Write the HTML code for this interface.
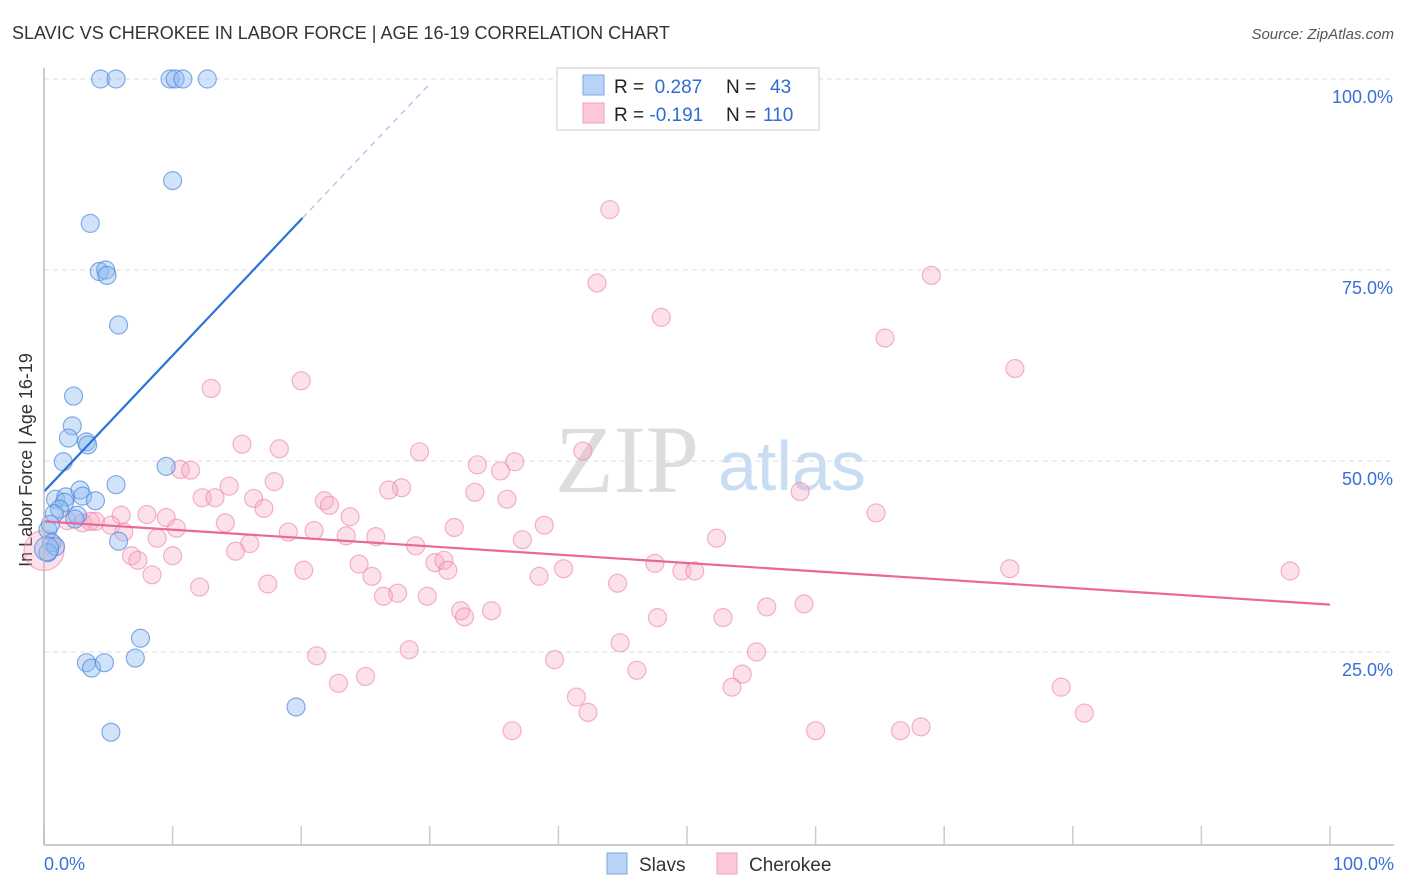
<!DOCTYPE html>
<html><head><meta charset="utf-8"><style>
body{margin:0;background:#fff;font-family:"Liberation Sans",sans-serif}
#wrap{position:relative;width:1406px;height:892px;overflow:hidden}
svg{position:absolute;left:0;top:0}
</style></head><body>
<div id="wrap">
<svg id="c" width="1406" height="892">
<text x="12" y="39" font-size="18" fill="#333">SLAVIC VS CHEROKEE IN LABOR FORCE | AGE 16-19 CORRELATION CHART</text>
<text x="1394" y="39" font-size="15" fill="#555" font-style="italic" text-anchor="end">Source: ZipAtlas.com</text>
<text x="32" y="460" font-size="18" fill="#333" text-anchor="middle" transform="rotate(-90 32 460)">In Labor Force | Age 16-19</text>
<text x="555" y="492" font-size="96" fill="#ddd" font-family="Liberation Serif,serif">ZIP</text>
<text x="718" y="490" font-size="70" fill="#c8dcf2">atlas</text>
<g id="grid"></g><g id="pts"></g><g id="lines"></g>
<line x1="44" y1="845" x2="1394" y2="845" stroke="#bbb" stroke-width="1.5"/>
<line x1="44" y1="68" x2="44" y2="845" stroke="#bbb" stroke-width="1.5"/>
<text x="44" y="870" font-size="18" fill="#3a6fd8">0.0%</text>
<text x="1394" y="870" font-size="18" fill="#3a6fd8" text-anchor="end">100.0%</text>
<g>
<rect x="557" y="68" width="262" height="62" fill="#fff" stroke="#ccc"/>
<rect x="583" y="75" width="21" height="20" fill="#b8d3f5" stroke="#7aa8e8"/>
<rect x="583" y="103" width="21" height="20" fill="#fcc8d8" stroke="#f0a0b8"/>
<text x="614" y="93" font-size="19" fill="#222">R = <tspan fill="#2f6bd6">&#160;0.287</tspan><tspan x="726">N = </tspan><tspan fill="#2f6bd6" x="770">43</tspan></text>
<text x="614" y="121" font-size="19" fill="#222">R = <tspan fill="#2f6bd6">-0.191</tspan><tspan x="726">N = </tspan><tspan fill="#2f6bd6" x="763">110</tspan></text>
</g>
<g>
<rect x="607" y="853" width="20" height="21" fill="#b8d3f5" stroke="#7aa8e8"/>
<text x="639" y="871" font-size="19" fill="#333">Slavs</text>
<rect x="717" y="853" width="20" height="21" fill="#fcc8d8" stroke="#f0a0b8"/>
<text x="749" y="871" font-size="19" fill="#333">Cherokee</text>
</g>
</svg></div>
<script>
const yTicks=[25,50,75,100];
const yTickLabels=["25.0%","50.0%","75.0%","100.0%"];
const xTicks=[0,10,20,30,40,50,60,70,80,90,100];
const slavsX=[4.4,5.6,9.8,10.2,10.8,12.7,10.0,3.6,4.3,4.8,4.9,5.8,2.3,2.2,1.9,3.3,3.4,1.5,9.5,5.6,0.9,1.7,1.6,2.8,3.0,4.0,1.2,0.8,2.6,2.4,0.3,0.6,5.8,0.9,7.5,7.1,3.3,3.7,4.7,19.6,5.2,0.3,0.5,0.2];
const slavsY=[100,100,100,100,100,100,86.7,81.1,74.8,75.0,74.3,67.8,58.5,54.6,53.0,52.5,52.1,49.9,49.3,46.9,45.0,45.3,44.6,46.2,45.4,44.8,43.7,43.1,42.9,42.4,41.0,39.3,39.5,38.8,26.8,24.2,23.6,22.9,23.6,17.8,14.5,38.0,41.7,38.5];
const slavsR=[9,9,9,9,9,9,9,9,9,9,9,9,9,9,9,9,9,9,9,9,9,9,9,9,9,9,9,9,9,9,9,9,9,9,9,9,9,9,9,9,9,9,9,12];
const cherX=[44,43,69,48,65.4,75.5,13,20,18.3,15.4,29.2,41.9,36.6,33.7,35.5,10.6,11.4,17.9,27.8,26.8,14.4,33.5,36,12.3,13.3,16.3,21.8,22.2,17.1,58.8,64.7,8,6,9.5,23.8,4,1.8,3,5.2,3.6,14.1,31.9,38.9,10.3,21,19,6.2,8.8,23.5,25.8,37.2,52.3,16,14.9,28.9,6.8,7.3,10,8.4,30.4,31.1,31.4,20.2,24.5,25.5,40.4,47.5,49.6,50.6,75.1,96.9,38.5,12.1,17.4,27.5,26.4,29.8,44.6,32.4,32.7,34.8,47.7,52.8,56.2,59.1,44.8,28.4,21.2,55.4,39.7,46.1,54.3,53.5,22.9,25,41.4,42.3,79.1,80.9,36.4,60,66.6,68.2,0];
const cherY=[82.9,73.3,74.3,68.8,66.1,62.1,59.5,60.5,51.6,52.2,51.2,51.3,49.9,49.5,48.7,48.9,48.8,47.3,46.5,46.2,46.7,45.9,45.0,45.2,45.2,45.1,44.8,44.2,43.8,46.0,43.2,43.0,42.9,42.6,42.7,42.1,42.2,41.9,41.6,42.1,41.9,41.3,41.6,41.2,40.9,40.7,40.7,39.9,40.2,40.1,39.7,39.9,39.2,38.2,38.9,37.6,37.0,37.6,35.1,36.7,37.0,35.7,35.7,36.5,34.9,35.9,36.6,35.6,35.6,35.9,35.6,34.9,33.5,33.9,32.7,32.3,32.3,34.0,30.4,29.6,30.4,29.5,29.5,30.9,31.3,26.2,25.3,24.5,25.0,24.0,22.6,22.1,20.4,20.9,21.8,19.1,17.1,20.4,17.0,14.7,14.7,14.7,15.2,38.3];
const cherR=cherX.map((v,i)=>i===cherX.length-1?20:9);
const slavTrend=[0,46,20.1,81.8]; const slavDash=[20.1,81.8,29.9,99.2];
const cherTrend=[0,42.1,100,31.2];
const X=v=>44+v*12.86, Y=v=>843-v*7.64;
const NS="http://www.w3.org/2000/svg";
function mk(tag,attrs,parent){const e=document.createElementNS(NS,tag);for(const k in attrs)e.setAttribute(k,attrs[k]);parent.appendChild(e);return e;}
const grid=document.getElementById('grid'),pts=document.getElementById('pts'),lines=document.getElementById('lines');
yTicks.forEach((t,i)=>{
 const l=mk('line',{x1:44,x2:1394,y1:Y(t),y2:Y(t),stroke:'#ddd','stroke-dasharray':'5,4'},grid);
 
 
 const tx=mk('text',{x:1393,y:Y(t)+24,'font-size':18,fill:'#3a6fd8','text-anchor':'end'},grid);
 tx.textContent=yTickLabels[i];
 
 
});
xTicks.forEach(t=>{
 const l=mk('line',{x1:X(t),x2:X(t),y1:826,y2:845,stroke:'#ccc','stroke-width':1.5},grid);
 
 
});
cherX.forEach((v,i)=>{
 const c=mk('circle',{cx:X(v),cy:Y(cherY[i]),r:cherR[i],fill:'rgba(248,170,195,0.35)',stroke:'rgba(235,130,165,0.6)','stroke-width':1.2},pts);
 
 
});
slavsX.forEach((v,i)=>{
 const c=mk('circle',{cx:X(v),cy:Y(slavsY[i]),r:slavsR[i],fill:'rgba(140,185,240,0.4)',stroke:'rgba(70,130,220,0.65)','stroke-width':1.2},pts);
 
 
});
let l1=mk('line',{x1:X(slavTrend[0]),y1:Y(slavTrend[1]),x2:X(slavTrend[2]),y2:Y(slavTrend[3]),stroke:'#2a72d8','stroke-width':2.2},lines);


let l2=mk('line',{x1:X(slavDash[0]),y1:Y(slavDash[1]),x2:X(slavDash[2]),y2:Y(slavDash[3]),stroke:'#9fc0ea','stroke-width':1.2,'stroke-dasharray':'6,5'},lines);


let l3=mk('line',{x1:X(cherTrend[0]),y1:Y(cherTrend[1]),x2:X(cherTrend[2]),y2:Y(cherTrend[3]),stroke:'#e8689a','stroke-width':2.2},lines);


</script>
</body></html>
